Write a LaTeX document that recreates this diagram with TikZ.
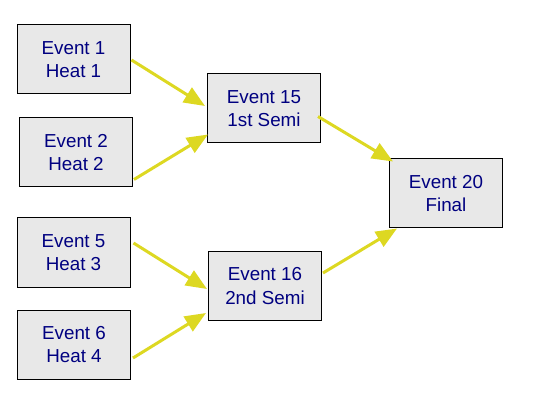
\documentclass[tikz,border=0pt]{standalone}
\usepackage{fontspec}
\setmainfont{Liberation Sans}
\usetikzlibrary{arrows.meta,calc}
\definecolor{boxfill}{RGB}{232,232,232}
\definecolor{txtblue}{RGB}{0,0,128}
\definecolor{arrowyel}{RGB}{221,216,34}
\tikzset{
  evbox/.style={draw=black, line width=1pt, fill=boxfill, minimum width=113pt, minimum height=69pt,
    inner sep=0pt, align=center, text=txtblue, font=\fontsize{18.8}{23.5}\selectfont},
  link/.style={draw=arrowyel, line width=3pt, -{Triangle[length=21pt,width=17pt]}}
}
\begin{document}
\begin{tikzpicture}[x=1pt,y=-1pt]
\useasboundingbox (0,0) rectangle (544,417);
\node[evbox] (b1) at (73.5,59.5) {Event 1\\Heat 1};
\node[evbox] (b2) at (76,152.5) {Event 2\\Heat 2};
\node[evbox] (b15) at (264,108.5) {Event 15\\1st Semi};
\node[evbox] (b5) at (73.5,252.5) {Event 5\\Heat 3};
\node[evbox] (b6) at (74,344.5) {Event 6\\Heat 4};
\node[evbox] (b16) at (265,286) {Event 16\\2nd Semi};
\node[evbox] (b20) at (446,193.5) {Event 20\\Final};
\draw[link] ($(b1.east)+(1,0.5)$) -- ($(b15.west)+(-2,-2.5)$);
\draw[link] ($(b2.south east)+(1,-8)$) -- ($(b15.south west)+(1,-9)$);
\draw[link] ($(b15.east)+(-3,8)$) -- ($(b20.north west)+(4,3)$);
\draw[link] ($(b16.east)+(1,-13)$) -- ($(b20.south west)+(8,0)$);
\draw[link] ($(b5.east)+(3,-9.5)$) -- ($(b16.west)+(-1,3)$);
\draw[link] ($(b6.east)+(2,13.5)$) -- ($(b16.west)+(-2,27)$);
\end{tikzpicture}
\end{document}
